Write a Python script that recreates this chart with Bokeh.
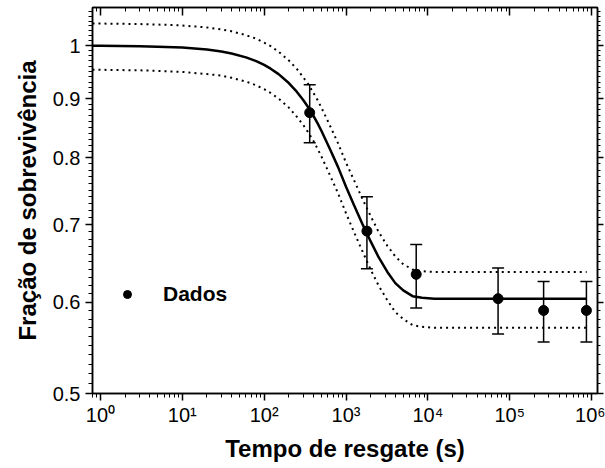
from bokeh.plotting import figure
from bokeh.models import (ColumnDataSource, Whisker, FixedTicker, LogAxis, Legend,
                          LegendItem, Range1d)
from bokeh.embed import file_html
from bokeh.resources import INLINE

# ---- data ----
tempo = [360, 1800, 7200, 72000, 259200, 864000]
fracao = [0.875, 0.691, 0.634, 0.604, 0.590, 0.590]
erro_sup = [0.925, 0.740, 0.673, 0.642, 0.625, 0.625]
erro_inf = [0.824, 0.641, 0.593, 0.563, 0.554, 0.554]

curva_t = [0.8, 1, 3, 5, 10, 20, 30, 40, 60, 80, 100, 120, 150, 200, 250, 300, 350,
           400, 450, 500, 650, 800, 1000, 1250, 1600, 2000, 2500, 3200, 4000, 5000,
           6500, 8500, 12000, 100000, 870000]
ajuste = [0.9997, 0.9996, 0.9988, 0.998, 0.9961, 0.9922, 0.9883, 0.9845, 0.9769,
          0.9695, 0.9623, 0.9552, 0.9448, 0.9282, 0.9124, 0.8974, 0.8831, 0.8694,
          0.8565, 0.844, 0.811, 0.785, 0.755, 0.728, 0.700, 0.677, 0.656, 0.637,
          0.623, 0.614, 0.607, 0.605, 0.604, 0.604, 0.604]
banda_sup = [1.045, 1.045, 1.044, 1.043, 1.041, 1.037, 1.033, 1.029, 1.021, 1.014,
             1.006, 0.999, 0.988, 0.971, 0.955, 0.939, 0.925, 0.910, 0.897, 0.884,
             0.850, 0.823, 0.792, 0.765, 0.736, 0.712, 0.690, 0.671, 0.657, 0.647,
             0.640, 0.638, 0.637, 0.637, 0.637]
banda_inf = [0.953, 0.953, 0.952, 0.951, 0.949, 0.945, 0.942, 0.938, 0.931, 0.924,
             0.917, 0.910, 0.900, 0.884, 0.868, 0.854, 0.840, 0.827, 0.814, 0.802,
             0.770, 0.745, 0.716, 0.690, 0.663, 0.640, 0.620, 0.602, 0.588, 0.580,
             0.573, 0.571, 0.570, 0.570, 0.570]

x_ticks = [1, 10, 100, 1000, 10000, 100000, 1000000]
x_tick_labels = ["10⁰", "10¹", "10²", "10³", "10⁴", "10⁵", "10⁶"]
y_ticks = [0.5, 0.6, 0.7, 0.8, 0.9, 1.0]
y_tick_labels = ["0.5", "0.6", "0.7", "0.8", "0.9", "1"]

FONT = "Liberation Sans"
X_MIN, X_MAX = 0.8, 1.18e6
Y_MIN, Y_MAX = 0.5, 1.079

x_minor = [m * 10.0 ** k for k in range(-1, 6) for m in range(2, 10)
           if X_MIN <= m * 10.0 ** k <= X_MAX]
y_minor = [round(0.5 + 0.01 * i, 2) for i in range(0, 59)]

xt = FixedTicker(ticks=x_ticks, minor_ticks=x_minor)
yt = FixedTicker(ticks=y_ticks, minor_ticks=y_minor)

p = figure(width=605, height=468, x_axis_type="log", y_axis_type="log",
           x_range=Range1d(X_MIN, X_MAX), y_range=Range1d(Y_MIN, Y_MAX),
           output_backend="svg", toolbar_location=None,
           min_border_left=92, min_border_right=8, min_border_top=7, min_border_bottom=75,
           x_axis_label="Tempo de resgate (s)", y_axis_label="Fração de sobrevivência")
p.grid.visible = False
p.background_fill_color = "white"
p.border_fill_color = "white"
p.outline_line_color = "black"
p.outline_line_width = 1.5

xa = p.xaxis[0]
xa.ticker = xt
xa.major_label_overrides = dict(zip(x_ticks, x_tick_labels))
ya = p.yaxis[0]
ya.ticker = yt
ya.major_label_overrides = dict(zip(y_ticks, y_tick_labels))

for ax in (xa, ya):
    ax.axis_line_width = 1.5
    ax.axis_line_color = "black"
    ax.major_tick_line_width = 1.5
    ax.minor_tick_line_width = 1
    ax.major_tick_out = 7
    ax.major_tick_in = 0
    ax.minor_tick_out = 4
    ax.minor_tick_in = 0
    ax.major_label_text_font = FONT
    ax.major_label_text_font_size = "20px"
    ax.major_label_text_color = "black"
    ax.axis_label_text_font = FONT
    ax.axis_label_text_font_size = "24px"
    ax.axis_label_text_font_style = "bold"
    ax.axis_label_text_color = "black"
xa.major_label_standoff = 3
xa.axis_label_standoff = 6
ya.major_label_standoff = 5
ya.axis_label_standoff = 9

top = LogAxis(ticker=xt, major_label_text_color=None, major_label_standoff=0,
              major_tick_in=8, major_tick_out=0, minor_tick_in=4, minor_tick_out=0,
              axis_line_width=1.5, major_tick_line_width=1.5, minor_tick_line_width=1)
p.add_layout(top, "above")
right = LogAxis(ticker=yt, major_label_text_color=None, major_label_standoff=0,
                major_tick_in=0, major_tick_out=6, minor_tick_in=0, minor_tick_out=3,
                axis_line_width=1.5, major_tick_line_width=1.5, minor_tick_line_width=1)
p.add_layout(right, "right")

p.line(curva_t, banda_sup, line_width=2, line_dash="2 4", color="black")
p.line(curva_t, banda_inf, line_width=2, line_dash="2 4", color="black")
p.line(curva_t, ajuste, line_width=2.5, color="black")

src = ColumnDataSource(dict(t=tempo, y=fracao, up=erro_sup, lo=erro_inf))
w = Whisker(source=src, base="t", upper="up", lower="lo",
            line_width=1.5, line_color="black")
w.upper_head.size = 12
w.lower_head.size = 12
w.upper_head.line_width = 1.5
w.lower_head.line_width = 1.5
p.add_layout(w)
r = p.scatter("t", "y", source=src, size=10, color="black")

legend = Legend(items=[LegendItem(label="Dados", renderers=[r])], location=(25, 87),
                border_line_color=None, background_fill_alpha=0, padding=0, margin=0,
                spacing=0, glyph_width=20, glyph_height=20, label_standoff=26,
                label_text_font=FONT, label_text_font_style="bold",
                label_text_font_size="21px", label_text_color="black", label_height=20)
p.add_layout(legend)

open("out.html", "w").write(file_html(p, INLINE))
